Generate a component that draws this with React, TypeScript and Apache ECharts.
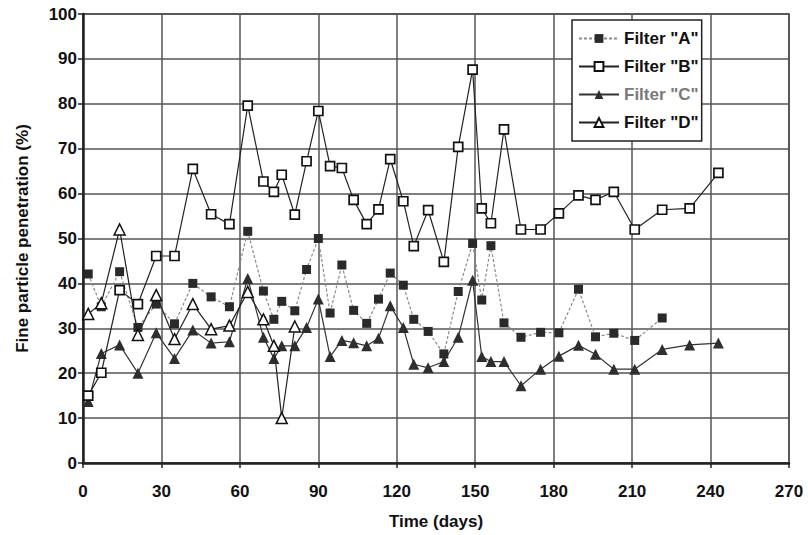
import { useEffect, useRef } from "react";
import * as echarts from "echarts";

const xTicks = [0, 30, 60, 90, 120, 150, 180, 210, 240, 270];

const daysA = [2, 7, 14, 21, 28, 35, 42, 49, 56, 63, 69, 73, 76, 81, 85.5, 90, 94.5, 99, 103.5, 108.5, 113, 117.5, 122.5, 126.5, 132, 138, 143.5, 149, 152.5, 156, 161, 167.5, 175, 182, 189.5, 196, 203, 211, 221.5];
const filterA = [42.1, 34.8, 42.6, 30.2, 35.4, 31.0, 40.0, 37.0, 34.8, 51.6, 38.3, 32.0, 36.0, 33.9, 43.1, 50.0, 33.4, 44.1, 34.0, 31.1, 36.5, 42.3, 39.6, 32.0, 29.3, 24.3, 38.2, 48.9, 36.3, 48.4, 31.2, 28.0, 29.1, 29.0, 38.7, 28.1, 28.9, 27.3, 32.3];

const daysB = [2, 7, 14, 21, 28, 35, 42, 49, 56, 63, 69, 73, 76, 81, 85.5, 90, 94.5, 99, 103.5, 108.5, 113, 117.5, 122.5, 126.5, 132, 138, 143.5, 149, 152.5, 156, 161, 167.5, 175, 182, 189.5, 196, 203, 211, 221.5, 232, 243];
const filterB = [15.0, 20.1, 38.5, 35.4, 46.1, 46.1, 65.5, 55.4, 53.2, 79.6, 62.7, 60.4, 64.2, 55.3, 67.2, 78.4, 66.1, 65.7, 58.6, 53.2, 56.5, 67.7, 58.3, 48.3, 56.3, 44.8, 70.4, 87.6, 56.7, 53.4, 74.3, 52.0, 52.0, 55.6, 59.6, 58.6, 60.4, 52.0, 56.4, 56.7, 64.6];

const daysC = [2, 7, 14, 21, 28, 35, 42, 49, 56, 63, 69, 73, 76, 81, 85.5, 90, 94.5, 99, 103.5, 108.5, 113, 117.5, 122.5, 126.5, 132, 138, 143.5, 149, 152.5, 156, 161, 167.5, 175, 182, 189.5, 196, 203, 211, 221.5, 232, 243];
const filterC = [13.7, 24.4, 26.3, 20.0, 29.0, 23.3, 29.6, 26.7, 27.0, 41.1, 28.0, 23.3, 26.1, 26.1, 30.2, 36.5, 23.7, 27.3, 26.8, 26.1, 27.8, 35.0, 30.2, 22.0, 21.2, 22.6, 28.0, 40.7, 23.7, 22.6, 22.6, 17.2, 20.9, 23.8, 26.2, 24.2, 20.9, 20.9, 25.3, 26.3, 26.7];

const daysD = [2, 7, 14, 21, 28, 35, 42, 49, 56, 63, 69, 73, 76, 81];
const filterD = [33.2, 35.6, 52.0, 28.5, 37.4, 27.6, 35.4, 29.8, 30.6, 38.1, 32.0, 26.1, 10.0, 30.4];

const names = ['Filter "A"', 'Filter "B"', 'Filter "C"', 'Filter "D"'];

const zip = (xs: number[], ys: number[]) => xs.map((x, i) => [x, ys[i]]);

const FONT = "'Liberation Sans', Arial, sans-serif";

export default function App() {
  const ref = useRef<HTMLDivElement>(null);
  useEffect(() => {
    if (!ref.current) return;
    const chart = echarts.init(ref.current, null, { renderer: "svg" });
    chart.setOption({
      animation: false,
      backgroundColor: "#ffffff",
      grid: {
        left: 83,
        right: 19,
        top: 14,
        bottom: 72,
        show: true,
        borderColor: "#333",
        borderWidth: 1.5,
      },
      legend: {
        orient: "vertical",
        left: 572,
        top: 20,
        backgroundColor: "#ffffff",
        borderColor: "#222",
        borderWidth: 1.5,
        borderRadius: 0,
        padding: [10, 3, 10, 6],
        itemWidth: 40,
        itemHeight: 11,
        itemGap: 11,
        textStyle: { fontFamily: FONT, fontSize: 17, color: "#111", fontWeight: "bold" },
        data: [
          { name: names[0] },
          { name: names[1] },
          { name: names[2], textStyle: { color: "#7a7a7a" } },
          { name: names[3] },
        ],
      },
      xAxis: {
        type: "value",
        min: 0,
        max: 270,
        interval: 30,
        name: "Time (days)",
        nameLocation: "middle",
        nameGap: 50,
        nameTextStyle: { fontFamily: FONT, fontSize: 17, color: "#111", fontWeight: "bold" },
        axisLine: { show: true, onZero: false, lineStyle: { color: "#222", width: 2.5 } },
        axisTick: { show: true, length: 5, lineStyle: { color: "#222", width: 1.5 } },
        axisLabel: {
          fontFamily: FONT,
          fontSize: 17,
          fontWeight: "bold",
          color: "#111",
          margin: 20,
          formatter: (v: number) => (xTicks.includes(v) ? String(v) : ""),
        },
        splitLine: { show: true, lineStyle: { color: "#555", width: 1.5 } },
      },
      yAxis: {
        type: "value",
        min: 0,
        max: 100,
        interval: 10,
        name: "Fine particle penetration (%)",
        nameLocation: "middle",
        nameGap: 52,
        nameTextStyle: { fontFamily: FONT, fontSize: 17, color: "#111", fontWeight: "bold" },
        axisLine: { show: true, lineStyle: { color: "#222", width: 2.5 } },
        axisTick: { show: true, length: 5, lineStyle: { color: "#222", width: 1.5 } },
        axisLabel: { fontFamily: FONT, fontSize: 17, color: "#111", margin: 6, fontWeight: "bold" },
        splitLine: { show: true, lineStyle: { color: "#555", width: 1.5 } },
      },
      series: [
        {
          name: names[0],
          type: "line",
          data: zip(daysA, filterA),
          symbol: "rect",
          symbolSize: 9,
          itemStyle: { color: "#2a2a2a" },
          lineStyle: { color: "#8a8a8a", width: 1.2, type: [3, 2] },
          z: 3,
        },
        {
          name: names[1],
          type: "line",
          data: zip(daysB, filterB),
          symbol: "rect",
          symbolSize: 9,
          itemStyle: { color: "#ffffff", borderColor: "#111", borderWidth: 1.7 },
          lineStyle: { color: "#222", width: 1.2 },
          z: 4,
        },
        {
          name: names[2],
          type: "line",
          data: zip(daysC, filterC),
          symbol: "triangle",
          symbolSize: 11,
          itemStyle: { color: "#2e2e2e" },
          lineStyle: { color: "#333", width: 1.2 },
          z: 3,
        },
        {
          name: names[3],
          type: "line",
          data: zip(daysD, filterD),
          symbol: "triangle",
          symbolSize: 11,
          itemStyle: { color: "#ffffff", borderColor: "#111", borderWidth: 1.5 },
          lineStyle: { color: "#222", width: 1.2 },
          z: 4,
        },
      ],
    });
    return () => chart.dispose();
  }, []);
  return (
    <div
      ref={ref}
      style={{ position: "fixed", left: 0, top: 0, width: 808, height: 535, background: "#fff" }}
    />
  );
}
